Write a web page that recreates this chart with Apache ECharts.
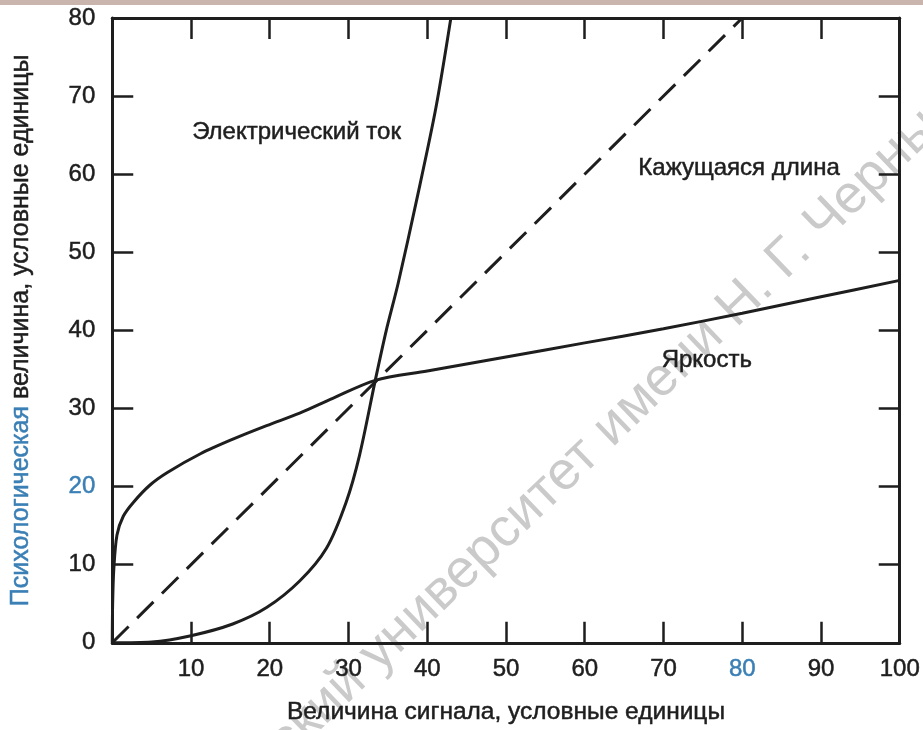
<!DOCTYPE html>
<html>
<head>
<meta charset="utf-8">
<script src="https://cdn.jsdelivr.net/npm/echarts@6/dist/echarts.min.js"></script>
<style>
html,body{margin:0;padding:0;background:#fff;}
#c{width:923px;height:730px;}
</style>
</head>
<body>
<div id="c"></div>
<script>
// ---- data ----
const xTicks = [0, 10, 20, 30, 40, 50, 60, 70, 80, 90, 100];
const yTicks = [0, 10, 20, 30, 40, 50, 60, 70, 80];

const brightX = [0, 0.05, 0.2, 0.6, 1.4, 2.7, 4.8, 7, 11.2, 15.4, 19.6, 23.8, 28, 33.4, 40, 50, 60, 70, 80, 90, 100];
const brightY = [0, 5, 9.5, 13.8, 16.2, 18, 20.2, 21.8, 24.2, 26.1, 27.8, 29.4, 31.3, 33.6, 34.8, 36.6, 38.4, 40.2, 42.2, 44.3, 46.4];

const elecX = [0, 5, 10, 15.3, 19.6, 23.8, 27.2, 29.7, 31.4, 33.4, 34.8, 36.3, 38.7, 41.1, 43];
const elecY = [0, 0.1, 0.9, 2.4, 4.5, 7.9, 12.1, 18, 24, 33.6, 40, 46, 56.9, 68.5, 80];

const lenX = [0, 80];
const lenY = [0, 80];

const labelTexts = ['Электрический ток', 'Кажущаяся длина', 'Яркость'];
const labelX = [23.4, 79.6, 75.5];
const labelY = [65.4, 60.7, 36.2];

const xTitle = 'Величина сигнала, условные единицы';
const yTitleA = 'Психологическая';
const yTitleB = ' величина, условные единицы';
const watermark = 'ский университет имени Н. Г. Чернышевского';

// ---- chart ----
const FONT = 'Liberation Sans, Arial, sans-serif';
const INK = '#1e1e1e';
const BLUE = '#3a7fb5';
const zip = (a, b) => a.map((v, i) => [v, b[i]]);

const chart = echarts.init(document.getElementById('c'), null, {renderer: 'canvas'});

const axisCommon = {
  type: 'value',
  splitLine: {show: false},
  axisLine: {show: true, onZero: false, lineStyle: {color: INK, width: 3}},
  axisTick: {show: true, inside: true, length: 21, lineStyle: {color: INK, width: 2.5}},
};
const heavy = {textBorderColor: INK, textBorderWidth: 0.5};
const heavyBlue = {textBorderColor: BLUE, textBorderWidth: 0.5};

const option = {
  animation: false,
  backgroundColor: '#fff',
  grid: {left: 112, top: 18, right: 22, bottom: 81, containLabel: false},
  xAxis: [
    Object.assign({}, axisCommon, {
      min: 0, max: 100, interval: 10, position: 'bottom',
      axisLabel: Object.assign({show: true, margin: 15, fontSize: 24, color: INK, fontFamily: FONT,
        formatter: v => (v === 0 ? '' : (v === 80 ? '{b|80}' : String(v))),
        rich: {b: Object.assign({color: BLUE, fontSize: 24, fontFamily: FONT}, heavyBlue)}}, heavy),
      name: xTitle, nameLocation: 'middle', nameGap: 57,
      nameTextStyle: Object.assign({fontSize: 24.5, color: INK, fontFamily: FONT}, heavy)
    }),
    Object.assign({}, axisCommon, {
      min: 0, max: 100, interval: 10, position: 'top',
      axisLabel: {show: false}
    })
  ],
  yAxis: [
    Object.assign({}, axisCommon, {
      min: 0, max: 80, interval: 10, position: 'left',
      axisLabel: Object.assign({show: true, margin: 17, fontSize: 24, color: INK, fontFamily: FONT,
        formatter: v => (v === 20 ? '{b|20}' : String(v)),
        rich: {b: Object.assign({color: BLUE, fontSize: 24, fontFamily: FONT}, heavyBlue)}}, heavy),
      name: '{b|' + yTitleA + '}' + yTitleB, nameLocation: 'middle', nameGap: 79,
      nameTextStyle: Object.assign({fontSize: 25, color: INK, fontFamily: FONT,
        rich: {b: Object.assign({color: BLUE, fontSize: 25, fontFamily: FONT}, heavyBlue)}}, heavy)
    }),
    Object.assign({}, axisCommon, {
      min: 0, max: 80, interval: 10, position: 'right',
      axisLabel: {show: false}
    })
  ],
  series: [
    {
      type: 'line', name: 'Яркость', data: zip(brightX, brightY),
      smooth: 0.3, showSymbol: false, symbol: 'none',
      lineStyle: {color: INK, width: 3}, clip: true
    },
    {
      type: 'line', name: 'Электрический ток', data: zip(elecX, elecY),
      smooth: 0.3, showSymbol: false, symbol: 'none',
      lineStyle: {color: INK, width: 3}, clip: true
    },
    {
      type: 'line', name: 'Кажущаяся длина', data: zip(lenX, lenY),
      showSymbol: false, symbol: 'none',
      lineStyle: {color: INK, width: 3, type: [23, 12]}, clip: true,
      markPoint: {
        symbol: 'circle', symbolSize: 1, itemStyle: {color: 'rgba(0,0,0,0)'},
        label: Object.assign({show: true, position: 'inside', color: INK, fontSize: 24, fontFamily: FONT,
          formatter: p => p.name}, heavy),
        data: labelTexts.map((t, i) => ({name: t, coord: [labelX[i], labelY[i]]}))
      }
    }
  ],
  graphic: [
    {type: 'rect', left: 0, top: 0, shape: {width: 923, height: 5}, style: {fill: '#c9b4ae'}, z: 100},
    {type: 'text', x: 688, y: 354, rotation: 44 * Math.PI / 180, z: 0, zlevel: 0,
      style: {text: watermark, fill: 'rgba(150,150,150,0.5)', font: '54px Liberation Sans, Arial, sans-serif',
        textAlign: 'center', textVerticalAlign: 'middle'}}
  ]
};
chart.setOption(option);
</script>
</body>
</html>
